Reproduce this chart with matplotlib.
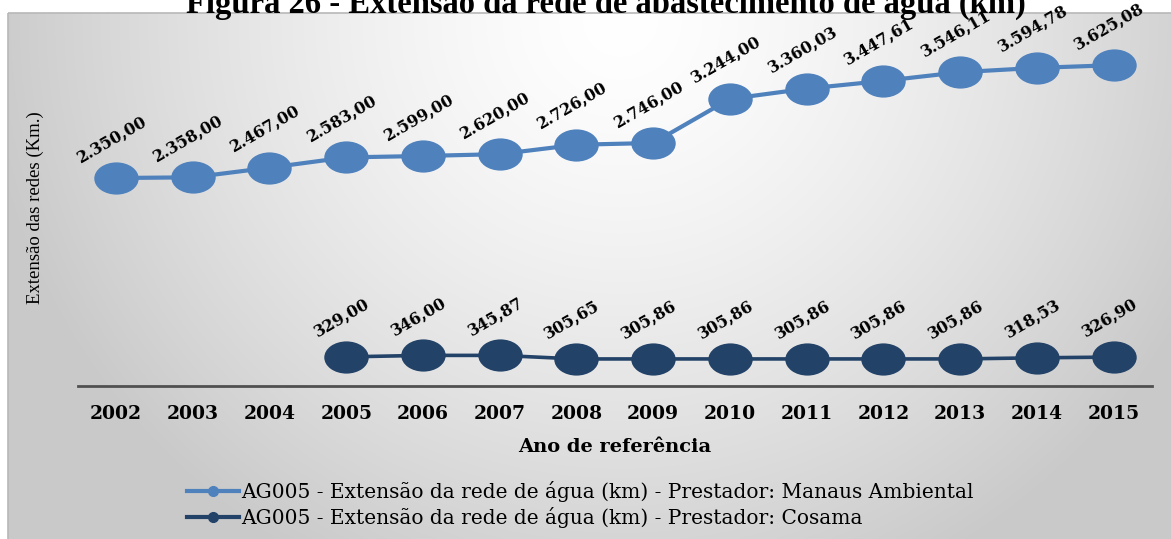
import numpy as np
import matplotlib
matplotlib.use("Agg")
import matplotlib.pyplot as plt
from matplotlib.path import Path
from matplotlib.transforms import Affine2D
from matplotlib.patches import Rectangle

# Extensão da rede de água (km), SNIS indicador AG005
anos = ["2002", "2003", "2004", "2005", "2006", "2007", "2008",
        "2009", "2010", "2011", "2012", "2013", "2014", "2015"]
manaus_ambiental = [2350.00, 2358.00, 2467.00, 2583.00, 2599.00, 2620.00, 2726.00,
                    2746.00, 3244.00, 3360.03, 3447.61, 3546.11, 3594.78, 3625.08]
# Cosama só aparece a partir de 2005
cosama = [None, None, None, 329.00, 346.00, 345.87, 305.65,
          305.86, 305.86, 305.86, 305.86, 305.86, 318.53, 326.90]

label_manaus = "AG005 - Extensão da rede de água (km) - Prestador: Manaus Ambiental"
label_cosama = "AG005 - Extensão da rede de água (km) - Prestador: Cosama"

COR_MANAUS = "#4f81bd"
COR_COSAMA = "#234268"
W, H = 1171, 539


def fmt_br(v):
    s = f"{v:,.2f}"
    return s.replace(",", "X").replace(".", ",").replace("X", ".")


fig = plt.figure(figsize=(W / 100, H / 100), dpi=100)

# fundo da área do gráfico: degradê radial claro no topo
bg = fig.add_axes([0, 0, 1, 1], zorder=0)
yy, xx = np.mgrid[0:H, 0:W]
d = np.sqrt(((xx - 620) / 640.0) ** 2 + ((yy - 20) / 620.0) ** 2)
shade = 1.0 - 0.21 * np.clip(d, 0, 1) ** 1.4
img = np.dstack([shade, shade, shade])
img[:13, :, :] = 1.0
img[:, :8, :] = 1.0
bg.imshow(img, extent=(0, W, H, 0), aspect="auto", interpolation="bilinear")
bg.add_patch(Rectangle((8, 13), W, H, fill=False, edgecolor="#b8b8b8", lw=1.2))
bg.set_xlim(0, W)
bg.set_ylim(H, 0)
bg.axis("off")

fig.text(0.517, 1 - 13 / H, "Figura 26 - Extensão da rede de abastecimento de água (km)",
         ha="center", va="baseline", fontsize=23.5, fontweight="bold",
         family="Liberation Serif")

x0, x1 = 77.6, 1152.0
ax = fig.add_axes([x0 / W, 1 - 386 / H, (x1 - x0) / W, 354 / H], zorder=1)
ax.patch.set_alpha(0)

ellipse = Path.unit_circle().transformed(Affine2D().scale(1.38, 1.0))
x = np.arange(len(anos))
ym = np.array(manaus_ambiental, dtype=float)
yc = np.array([np.nan if v is None else v for v in cosama], dtype=float)

ax.plot(x, ym, color=COR_MANAUS, lw=3.0, marker=ellipse, ms=32, mew=0,
        solid_capstyle="round", zorder=3)
ax.plot(x, yc, color=COR_COSAMA, lw=2.6, marker=ellipse, ms=32, mew=0, zorder=3)

for serie in (ym, yc):
    for xi, v in zip(x, serie):
        if np.isnan(v):
            continue
        ax.annotate(fmt_br(v), (xi, v), xytext=(-3, 28), textcoords="offset points",
                    ha="center", va="center", rotation=30, fontsize=11.5,
                    fontweight="bold", family="DejaVu Serif", zorder=4)

ax.set_xlim(-0.5, len(anos) - 0.5)
ax.set_ylim(0, 4000)
ax.set_xticks(x)
ax.set_xticklabels(anos, fontsize=13.5, fontweight="bold", family="DejaVu Serif")
ax.tick_params(axis="x", length=0, pad=14)
ax.set_yticks([])
for s in ("top", "right", "left"):
    ax.spines[s].set_visible(False)
ax.spines["bottom"].set_color("#505050")
ax.spines["bottom"].set_linewidth(2.0)

ax.set_xlabel("Ano de referência", fontsize=14, fontweight="bold", family="DejaVu Serif")
ax.xaxis.set_label_coords((615 - x0) / (x1 - x0), (386 - 447) / 354)
ax.xaxis.label.set_va("center")

ax.set_ylabel("Extensão das redes (Km.)", fontsize=13.5, family="Liberation Serif")
ax.yaxis.set_label_coords((35 - x0) / (x1 - x0), (386 - 208) / 354)
ax.yaxis.label.set_va("center")

h1, = ax.plot([], [], color=COR_MANAUS, lw=3, marker="o", ms=7)
h2, = ax.plot([], [], color=COR_COSAMA, lw=3, marker="o", ms=7)
fig.legend([h1, h2], [label_manaus, label_cosama], loc="upper left",
           bbox_to_anchor=(187 / W, 1 - 481 / H), frameon=False,
           prop={"family": "DejaVu Serif", "size": 14.5}, handlelength=2.6,
           handletextpad=0.1, borderpad=0, borderaxespad=0, labelspacing=0.25)

fig.savefig("out.png", dpi=100)
